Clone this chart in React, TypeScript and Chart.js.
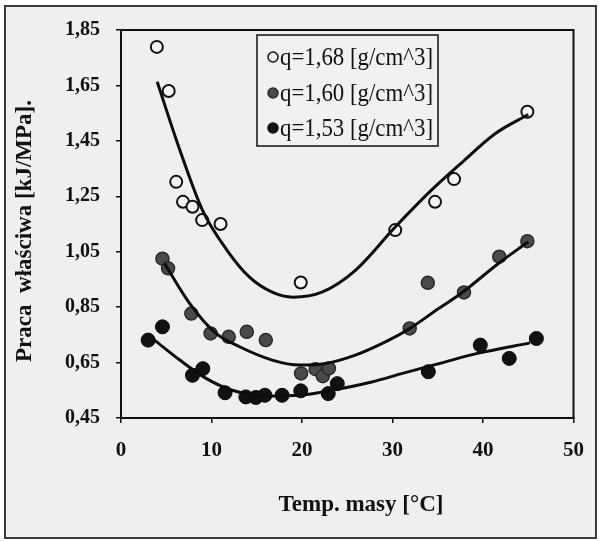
import React, { useEffect, useRef } from "react";
import { Chart, registerables } from "chart.js";

Chart.register(...registerables);

// ---- data ----
const seriesNames = ["q=1,68 [g/cm^3]", "q=1,60 [g/cm^3]", "q=1,53 [g/cm^3]"];

const x168 = [3.96, 5.27, 6.1, 6.85, 7.9, 8.97, 11.0, 19.86, 30.3, 34.7, 36.8, 44.9];
const y168 = [1.789, 1.63, 1.302, 1.23, 1.212, 1.164, 1.15, 0.939, 1.128, 1.23, 1.312, 1.555];

const x160 = [4.58, 5.2, 7.77, 9.9, 11.9, 13.9, 16.0, 19.9, 21.5, 22.3, 22.97, 31.9, 33.9, 37.9, 41.8, 44.9];
const y160 = [1.025, 0.99, 0.827, 0.755, 0.743, 0.761, 0.731, 0.611, 0.626, 0.601, 0.629, 0.773, 0.938, 0.903, 1.032, 1.088];

const x153 = [3.0, 4.58, 7.9, 9.04, 11.5, 13.8, 14.9, 15.9, 17.8, 19.86, 22.9, 23.9, 33.96, 39.7, 42.9, 45.9];
const y153 = [0.731, 0.779, 0.604, 0.628, 0.541, 0.526, 0.524, 0.532, 0.532, 0.548, 0.538, 0.574, 0.617, 0.713, 0.665, 0.737];

// trend curves
const fitX168 = [4, 6.5, 9, 11.7, 14.2, 16.7, 19, 22.2, 25.9, 30.3, 34.3, 37.6, 41.3, 45];
const fitY168 = [1.663, 1.417, 1.2, 1.056, 0.958, 0.904, 0.886, 0.904, 0.983, 1.139, 1.272, 1.37, 1.475, 1.545];

const fitX160 = [4.8, 7.6, 10.5, 13.1, 16.7, 19.7, 22.6, 25.9, 29.6, 32, 35.1, 37.6, 41.6, 45];
const fitY160 = [1.008, 0.863, 0.755, 0.707, 0.659, 0.641, 0.647, 0.677, 0.731, 0.775, 0.845, 0.9, 1.005, 1.086];

const fitX153 = [3.7, 6.5, 9.4, 12.3, 16, 19.7, 23.3, 27.7, 31, 35.1, 39.5, 45.2];
const fitY153 = [0.731, 0.659, 0.593, 0.55, 0.529, 0.532, 0.55, 0.58, 0.61, 0.646, 0.684, 0.721];

const xTicks = [0, 10, 20, 30, 40, 50];
const yTicks = [0.45, 0.65, 0.85, 1.05, 1.25, 1.45, 1.65, 1.85];

const xTitle = "Temp. masy [°C]";
const yTitle = "Praca  właściwa [kJ/MPa].";

const SERIF = '"Liberation Serif", "Times New Roman", serif';

const zip = (xs: number[], ys: number[]) => xs.map((x, i) => ({ x, y: ys[i] }));

const bgPlugin = {
  id: "bgFrame",
  beforeDraw(chart: any) {
    const { ctx, width, height } = chart;
    ctx.save();
    ctx.fillStyle = "#ffffff";
    ctx.fillRect(0, 0, width, height);
    ctx.fillStyle = "#efefef";
    ctx.fillRect(5, 6, 591, 532);
    ctx.strokeStyle = "#3a3a3a";
    ctx.lineWidth = 2;
    ctx.strokeRect(5, 6, 591, 532);
    ctx.restore();
  },
  beforeDatasetsDraw(chart: any) {
    const { ctx, chartArea } = chart;
    ctx.save();
    ctx.strokeStyle = "#111";
    ctx.lineWidth = 2;
    ctx.strokeRect(chartArea.left, chartArea.top, chartArea.right - chartArea.left, chartArea.bottom - chartArea.top);
    ctx.restore();
  },
  afterDatasetsDraw(chart: any) {
    const { ctx } = chart;
    ctx.save();
    // legend box
    ctx.fillStyle = "#f1f1f1";
    ctx.fillRect(257, 35, 181, 111);
    ctx.strokeStyle = "#111";
    ctx.lineWidth = 1.5;
    ctx.strokeRect(257, 35, 181, 111);
    const rows = [57, 93, 128];
    const ds = chart.data.datasets.filter((d: any) => d.isMarker);
    ds.forEach((d: any, i: number) => {
      ctx.beginPath();
      ctx.arc(273, rows[i], 5, 0, Math.PI * 2);
      ctx.fillStyle = d.pointBackgroundColor;
      ctx.fill();
      ctx.lineWidth = 1.5;
      ctx.strokeStyle = d.pointBorderColor;
      ctx.stroke();
      ctx.fillStyle = "#111";
      ctx.font = `25px ${SERIF}`;
      ctx.textBaseline = "middle";
      ctx.textAlign = "left";
      ctx.fillText(d.label, 280, rows[i] + 1, 153);
    });
    // axis titles
    ctx.fillStyle = "#111";
    ctx.font = `bold 23px ${SERIF}`;
    ctx.textAlign = "center";
    ctx.textBaseline = "middle";
    ctx.fillText(xTitle, 361, 505);
    ctx.translate(25, 231);
    ctx.rotate(-Math.PI / 2);
    ctx.font = `bold 23px ${SERIF}`;
    ctx.fillText(yTitle, 0, 0);
    ctx.restore();
  },
};

export default function App() {
  const ref = useRef<HTMLCanvasElement | null>(null);

  useEffect(() => {
    document.body.style.margin = "0";
    const canvas = ref.current;
    if (!canvas) return;
    const markerStyles = [
      { bg: "#f4f4f4", border: "#111", r: 6, bw: 2 },
      { bg: "#4a4a4a", border: "#2a2a2a", r: 6.5, bw: 1.5 },
      { bg: "#111111", border: "#0a0a0a", r: 7, bw: 1 },
    ];
    const pts = [zip(x168, y168), zip(x160, y160), zip(x153, y153)];
    const fits = [zip(fitX168, fitY168), zip(fitX160, fitY160), zip(fitX153, fitY153)];

    const datasets: any[] = [];
    pts.forEach((p, i) => {
      datasets.push({
        type: "scatter",
        label: seriesNames[i],
        isMarker: true,
        data: p,
        pointRadius: markerStyles[i].r,
        pointBackgroundColor: markerStyles[i].bg,
        pointBorderColor: markerStyles[i].border,
        pointBorderWidth: markerStyles[i].bw,
        showLine: false,
        order: 2,
      });
    });
    fits.forEach((f, i) => {
      datasets.push({
        type: "line",
        label: seriesNames[i] + " trend",
        data: f,
        borderColor: "#0d0d0d",
        borderWidth: 3,
        pointRadius: 0,
        fill: false,
        cubicInterpolationMode: "monotone",
        order: 1,
      });
    });

    const chart = new Chart(canvas, {
      type: "scatter",
      data: { datasets },
      options: {
        animation: false,
        responsive: false,
        devicePixelRatio: 1,
        layout: { padding: { left: 0, right: 23, top: 30, bottom: 0 } },
        plugins: { legend: { display: false }, tooltip: { enabled: false } },
        scales: {
          x: {
            type: "linear",
            min: 0,
            max: 50,
            afterBuildTicks: (s: any) => {
              s.ticks = xTicks.map((v) => ({ value: v }));
            },
            afterFit: (s: any) => {
              s.height = 123;
            },
            ticks: {
              autoSkip: false,
              maxRotation: 0,
              padding: 15,
              color: "#111",
              font: { family: SERIF, size: 21, weight: "bold" },
            },
            grid: { drawOnChartArea: false, drawTicks: true, tickLength: 5, color: "#111", lineWidth: 1.5 },
            border: { display: true, color: "#111", width: 2 },
          },
          y: {
            type: "linear",
            min: 0.45,
            max: 1.85,
            afterBuildTicks: (s: any) => {
              s.ticks = yTicks.map((v) => ({ value: v }));
            },
            afterFit: (s: any) => {
              s.width = 121;
            },
            ticks: {
              autoSkip: false,
              padding: 16,
              color: "#111",
              font: { family: SERIF, size: 20, weight: "bold" },
              callback: (v: any) => Number(v).toFixed(2).replace(".", ","),
            },
            grid: { drawOnChartArea: false, drawTicks: true, tickLength: 5, color: "#111", lineWidth: 1.5 },
            border: { display: true, color: "#111", width: 2 },
          },
        },
      } as any,
      plugins: [bgPlugin],
    });
    return () => chart.destroy();
  }, []);

  return (
    <div style={{ width: 599, height: 541 }}>
      <canvas ref={ref} width={599} height={541} style={{ display: "block" }} />
    </div>
  );
}
